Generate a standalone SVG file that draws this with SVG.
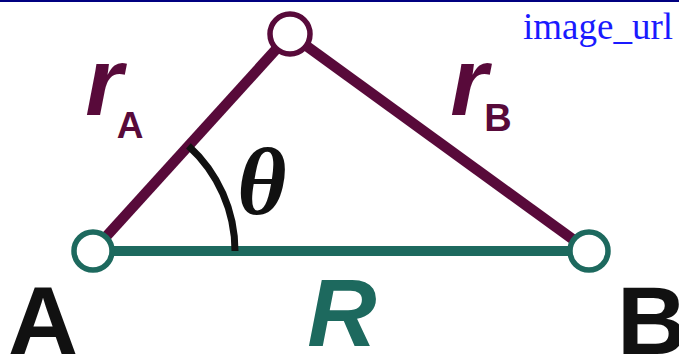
<svg xmlns="http://www.w3.org/2000/svg" width="679" height="357" viewBox="0 0 679 357">
<style>
.m{stroke:#580a3a;stroke-width:10.5;fill:none}
.t{stroke:#1d695e;stroke-width:10;fill:none}
.nd{fill:#fff;stroke-width:5.5}
.sans{font-family:"Liberation Sans",Arial,sans-serif;font-weight:bold}
</style>
<rect width="679" height="357" fill="#fff"/>
<line x1="0" y1="1" x2="679" y2="1" stroke="#000080" stroke-width="2"/>
<text x="673" y="39" text-anchor="end" font-family="Liberation Serif,serif" font-size="37" fill="#1a1aff">image_url</text>
<g id="connectors">
<line class="m" x1="93" y1="251" x2="290" y2="34"/>
<line class="m" x1="290" y1="34" x2="589" y2="251"/>
<line class="t" x1="93" y1="251" x2="589" y2="251"/>
<path d="M188.4,145.8 A142,142 0 0 1 235,251" fill="none" stroke="#111" stroke-width="7"/>
</g>
<g id="nodeA"><circle class="nd" cx="93" cy="251" r="19" stroke="#1d695e"/></g>
<g id="nodeB"><circle class="nd" cx="589" cy="251" r="19" stroke="#1d695e"/></g>
<g id="nodeTop"><circle class="nd" cx="290" cy="34" r="20" stroke="#580a3a"/></g>
<g class="sans" fill="#580a3a">
<text x="104" y="115" font-size="96" font-style="italic" text-anchor="middle">r</text>
<text x="130" y="138" font-size="37" text-anchor="middle">A</text>
<text x="469" y="115" font-size="96" font-style="italic" text-anchor="middle">r</text>
<text x="498" y="131" font-size="38" text-anchor="middle">B</text>
</g>
<text x="262" y="214" font-family="Liberation Serif,serif" font-weight="bold" font-style="italic" font-size="95" text-anchor="middle" fill="#111">θ</text>
<text class="sans" x="342" y="346" font-size="96" font-style="italic" text-anchor="middle" fill="#1d695e">R</text>
<text class="sans" x="43" y="354" font-size="97" text-anchor="middle" fill="#111">A</text>
<text class="sans" x="652" y="354" font-size="97" text-anchor="middle" fill="#111">B</text>
</svg>
